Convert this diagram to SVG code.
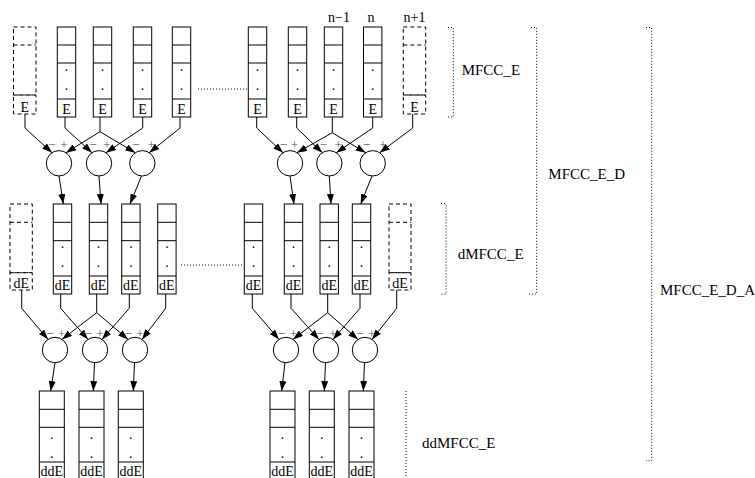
<svg xmlns="http://www.w3.org/2000/svg" width="755" height="478" viewBox="0 0 755 478">
<style>
.c{fill:#fff;stroke:#000;stroke-width:1}
.d{fill:none;stroke:#000;stroke-width:1;stroke-dasharray:4,3}
.dv{stroke:#000;stroke-width:1}
.t{font-family:"Liberation Serif",serif;font-size:14px;fill:#000;text-anchor:middle}
.pm{font-family:"Liberation Serif",serif;font-size:13px;fill:#555;text-anchor:middle}
.lb{font-family:"Liberation Serif",serif;font-size:15px;fill:#000}
.dot{fill:none;stroke:#000;stroke-width:1;stroke-dasharray:1,2}
.cn{fill:none;stroke:#000;stroke-width:1}
.ar{fill:none;stroke:#000;stroke-width:1;marker-end:url(#ah)}
.op{fill:#fff;stroke:#000;stroke-width:1}
</style>
<defs>
<marker id="ah" markerWidth="10" markerHeight="7" refX="10" refY="3.5" orient="auto" markerUnits="userSpaceOnUse"><path d="M0,0 L10,3.5 L0,7 z" fill="#000"/></marker>
</defs>

<!-- top row -->
<g id="top-dashL"><rect class="d" x="13.5" y="27" width="22.5" height="68"/><line class="d" x1="13.5" y1="45" x2="36" y2="45"/><rect class="d" x="13.5" y="95" width="22.5" height="19"/><text class="t" x="24.7" y="111.5">E</text></g>
<g id="top-1"><rect class="c" x="57.3" y="27" width="18.4" height="90"/><path class="dv" d="M57.3,45H75.7M57.3,63H75.7M57.3,99H75.7"/><text class="t" x="66.5" y="71">.</text><text class="t" x="66.5" y="90">.</text><text class="t" x="66.5" y="113.5">E</text></g>
<g id="top-2"><rect class="c" x="93.3" y="27" width="18.4" height="90"/><path class="dv" d="M93.3,45H111.7M93.3,63H111.7M93.3,99H111.7"/><text class="t" x="102.5" y="71">.</text><text class="t" x="102.5" y="90">.</text><text class="t" x="102.5" y="113.5">E</text></g>
<g id="top-3"><rect class="c" x="133.3" y="27" width="18.4" height="90"/><path class="dv" d="M133.3,45H151.7M133.3,63H151.7M133.3,99H151.7"/><text class="t" x="142.5" y="71">.</text><text class="t" x="142.5" y="90">.</text><text class="t" x="142.5" y="113.5">E</text></g>
<g id="top-4"><rect class="c" x="172.3" y="27" width="18.4" height="90"/><path class="dv" d="M172.3,45H190.7M172.3,63H190.7M172.3,99H190.7"/><text class="t" x="181.5" y="71">.</text><text class="t" x="181.5" y="90">.</text><text class="t" x="181.5" y="113.5">E</text></g>
<g id="top-5"><rect class="c" x="248.3" y="27" width="18.4" height="90"/><path class="dv" d="M248.3,45H266.7M248.3,63H266.7M248.3,99H266.7"/><text class="t" x="257.5" y="71">.</text><text class="t" x="257.5" y="90">.</text><text class="t" x="257.5" y="113.5">E</text></g>
<g id="top-6"><rect class="c" x="288.3" y="27" width="18.4" height="90"/><path class="dv" d="M288.3,45H306.7M288.3,63H306.7M288.3,99H306.7"/><text class="t" x="297.5" y="71">.</text><text class="t" x="297.5" y="90">.</text><text class="t" x="297.5" y="113.5">E</text></g>
<g id="top-7"><rect class="c" x="324.3" y="27" width="18.4" height="90"/><path class="dv" d="M324.3,45H342.7M324.3,63H342.7M324.3,99H342.7"/><text class="t" x="333.5" y="71">.</text><text class="t" x="333.5" y="90">.</text><text class="t" x="333.5" y="113.5">E</text><text class="t" x="339" y="22">n−1</text></g>
<g id="top-8"><rect class="c" x="363.5" y="27" width="18.4" height="90"/><path class="dv" d="M363.5,45H381.9M363.5,63H381.9M363.5,99H381.9"/><text class="t" x="372.7" y="71">.</text><text class="t" x="372.7" y="90">.</text><text class="t" x="372.7" y="113.5">E</text><text class="t" x="371" y="22">n</text></g>
<g id="top-dashR"><rect class="d" x="403.3" y="27" width="22.4" height="68"/><line class="d" x1="403.3" y1="45" x2="425.7" y2="45"/><rect class="d" x="403.3" y="95" width="22.4" height="19"/><text class="t" x="414.5" y="111.5">E</text><text class="t" x="414.5" y="22">n+1</text></g>

<!-- middle row -->
<g id="mid-dashL"><rect class="d" x="10" y="204" width="22.3" height="68.7"/><line class="d" x1="10" y1="222.3" x2="32.3" y2="222.3"/><rect class="d" x="10" y="272.7" width="22.3" height="17.3"/><text class="t" x="21.2" y="288">dE</text></g>
<g id="mid-1"><rect class="c" x="53.3" y="204" width="18.4" height="90"/><path class="dv" d="M53.3,222.3H71.7M53.3,240.7H71.7M53.3,276H71.7"/><text class="t" x="62.5" y="248">.</text><text class="t" x="62.5" y="267">.</text><text class="t" x="62.5" y="290">dE</text></g>
<g id="mid-2"><rect class="c" x="89.3" y="204" width="18.4" height="90"/><path class="dv" d="M89.3,222.3H107.7M89.3,240.7H107.7M89.3,276H107.7"/><text class="t" x="98.5" y="248">.</text><text class="t" x="98.5" y="267">.</text><text class="t" x="98.5" y="290">dE</text></g>
<g id="mid-3"><rect class="c" x="121.7" y="204" width="18.4" height="90"/><path class="dv" d="M121.7,222.3H140.1M121.7,240.7H140.1M121.7,276H140.1"/><text class="t" x="130.9" y="248">.</text><text class="t" x="130.9" y="267">.</text><text class="t" x="130.9" y="290">dE</text></g>
<g id="mid-4"><rect class="c" x="157.7" y="204" width="18.4" height="90"/><path class="dv" d="M157.7,222.3H176.1M157.7,240.7H176.1M157.7,276H176.1"/><text class="t" x="166.9" y="248">.</text><text class="t" x="166.9" y="267">.</text><text class="t" x="166.9" y="290">dE</text></g>
<g id="mid-5"><rect class="c" x="244.3" y="204" width="18.4" height="90"/><path class="dv" d="M244.3,222.3H262.7M244.3,240.7H262.7M244.3,276H262.7"/><text class="t" x="253.5" y="248">.</text><text class="t" x="253.5" y="267">.</text><text class="t" x="253.5" y="290">dE</text></g>
<g id="mid-6"><rect class="c" x="284.3" y="204" width="18.4" height="90"/><path class="dv" d="M284.3,222.3H302.7M284.3,240.7H302.7M284.3,276H302.7"/><text class="t" x="293.5" y="248">.</text><text class="t" x="293.5" y="267">.</text><text class="t" x="293.5" y="290">dE</text></g>
<g id="mid-7"><rect class="c" x="320" y="204" width="18.4" height="90"/><path class="dv" d="M320,222.3H338.4M320,240.7H338.4M320,276H338.4"/><text class="t" x="329.2" y="248">.</text><text class="t" x="329.2" y="267">.</text><text class="t" x="329.2" y="290">dE</text></g>
<g id="mid-8"><rect class="c" x="352.3" y="204" width="18.4" height="90"/><path class="dv" d="M352.3,222.3H370.7M352.3,240.7H370.7M352.3,276H370.7"/><text class="t" x="361.5" y="248">.</text><text class="t" x="361.5" y="267">.</text><text class="t" x="361.5" y="290">dE</text></g>
<g id="mid-dashR"><rect class="d" x="389" y="204" width="22" height="68.7"/><line class="d" x1="389" y1="222.3" x2="411" y2="222.3"/><rect class="d" x="389" y="272.7" width="22" height="17.3"/><text class="t" x="400" y="288">dE</text></g>

<!-- bottom row -->
<g id="bot-1"><rect class="c" x="39.3" y="391" width="25" height="90"/><path class="dv" d="M39.3,409.3H64.3M39.3,427.3H64.3M39.3,462H64.3"/><text class="t" x="51.8" y="439">.</text><text class="t" x="51.8" y="457.5">.</text><text class="t" x="51.8" y="476">ddE</text></g>
<g id="bot-2"><rect class="c" x="79" y="391" width="25" height="90"/><path class="dv" d="M79,409.3H104M79,427.3H104M79,462H104"/><text class="t" x="91.5" y="439">.</text><text class="t" x="91.5" y="457.5">.</text><text class="t" x="91.5" y="476">ddE</text></g>
<g id="bot-3"><rect class="c" x="118.3" y="391" width="25" height="90"/><path class="dv" d="M118.3,409.3H143.3M118.3,427.3H143.3M118.3,462H143.3"/><text class="t" x="130.8" y="439">.</text><text class="t" x="130.8" y="457.5">.</text><text class="t" x="130.8" y="476">ddE</text></g>
<g id="bot-4"><rect class="c" x="270" y="391" width="25" height="90"/><path class="dv" d="M270,409.3H295M270,427.3H295M270,462H295"/><text class="t" x="282.5" y="439">.</text><text class="t" x="282.5" y="457.5">.</text><text class="t" x="282.5" y="476">ddE</text></g>
<g id="bot-5"><rect class="c" x="309.3" y="391" width="25" height="90"/><path class="dv" d="M309.3,409.3H334.3M309.3,427.3H334.3M309.3,462H334.3"/><text class="t" x="321.8" y="439">.</text><text class="t" x="321.8" y="457.5">.</text><text class="t" x="321.8" y="476">ddE</text></g>
<g id="bot-6"><rect class="c" x="349" y="391" width="25" height="90"/><path class="dv" d="M349,409.3H374M349,427.3H374M349,462H374"/><text class="t" x="361.5" y="439">.</text><text class="t" x="361.5" y="457.5">.</text><text class="t" x="361.5" y="476">ddE</text></g>

<!-- difference operators -->
<g id="op-1"><circle class="op" cx="59" cy="163.3" r="12.7"/><text class="pm" x="51.7" y="149">−</text><text class="pm" x="64" y="149">+</text></g>
<g id="op-2"><circle class="op" cx="99" cy="163.3" r="12.7"/><text class="pm" x="93" y="149">−</text><text class="pm" x="107" y="149">+</text></g>
<g id="op-3"><circle class="op" cx="142.3" cy="163.3" r="12.7"/><text class="pm" x="136" y="149">−</text><text class="pm" x="151.5" y="149">+</text></g>
<g id="op-4"><circle class="op" cx="290" cy="163.3" r="12.7"/><text class="pm" x="283.3" y="149">−</text><text class="pm" x="294.5" y="149">+</text></g>
<g id="op-5"><circle class="op" cx="329.3" cy="163.3" r="12.7"/><text class="pm" x="323.3" y="149">−</text><text class="pm" x="338.3" y="149">+</text></g>
<g id="op-6"><circle class="op" cx="372.7" cy="163.3" r="12.7"/><text class="pm" x="366.7" y="149">−</text><text class="pm" x="383" y="149">+</text></g>
<g id="op-7"><circle class="op" cx="55" cy="350" r="12.7"/><text class="pm" x="50" y="337.5">−</text><text class="pm" x="61.7" y="337.5">+</text></g>
<g id="op-8"><circle class="op" cx="95" cy="350" r="12.7"/><text class="pm" x="88.3" y="337.5">−</text><text class="pm" x="100" y="337.5">+</text></g>
<g id="op-9"><circle class="op" cx="135" cy="350" r="12.7"/><text class="pm" x="128.3" y="337.5">−</text><text class="pm" x="140" y="337.5">+</text></g>
<g id="op-10"><circle class="op" cx="286" cy="350" r="12.7"/><text class="pm" x="281.7" y="337.5">−</text><text class="pm" x="293.3" y="337.5">+</text></g>
<g id="op-11"><circle class="op" cx="326" cy="350" r="12.7"/><text class="pm" x="320" y="337.5">−</text><text class="pm" x="333" y="337.5">+</text></g>
<g id="op-12"><circle class="op" cx="365" cy="350" r="12.7"/><text class="pm" x="360" y="337.5">−</text><text class="pm" x="371.7" y="337.5">+</text></g>

<!-- connectors -->
<g id="connectors">
<path class="ar" d="M25,114V128L52,152.7"/>
<path class="ar" d="M65,117V128L92,152.7"/>
<path class="cn" d="M100,117V131.7"/>
<path class="ar" d="M100,131.7L66,152.7"/>
<path class="ar" d="M100,131.7L135.3,152.7"/>
<path class="ar" d="M142.7,117V128L106,152.7"/>
<path class="ar" d="M180,117V128L149.3,152.7"/>
<path class="ar" d="M256.7,117V128L283,152.7"/>
<path class="ar" d="M296.7,117V128L322.3,152.7"/>
<path class="cn" d="M332.3,117V132.7"/>
<path class="ar" d="M332.3,132.7L297,152.7"/>
<path class="ar" d="M332.3,132.7L365.7,152.7"/>
<path class="ar" d="M372.7,117V128L336.3,152.7"/>
<path class="ar" d="M412.7,114V128L379.7,152.7"/>

<path class="ar" d="M59,176L63.3,204"/>
<path class="ar" d="M99,176L101,204"/>
<path class="ar" d="M141.5,176L130,204"/>
<path class="ar" d="M290,176L294,204"/>
<path class="ar" d="M329.3,176L331,204"/>
<path class="ar" d="M372,176L360.7,204"/>

<path class="ar" d="M21.7,290V308.3L48,339.4"/>
<path class="ar" d="M60.7,294V308.3L88,339.4"/>
<path class="cn" d="M96.7,294V312.7"/>
<path class="ar" d="M96.7,312.7L62,339.4"/>
<path class="ar" d="M96.7,312.7L128,339.4"/>
<path class="ar" d="M129.3,294V308.3L102,339.4"/>
<path class="ar" d="M165.7,294V308.3L142,339.4"/>
<path class="ar" d="M252.3,294V308.3L279,339.4"/>
<path class="ar" d="M291,294V308.3L319,339.4"/>
<path class="cn" d="M327.7,294V312.7"/>
<path class="ar" d="M327.7,312.7L293,339.4"/>
<path class="ar" d="M327.7,312.7L358,339.4"/>
<path class="ar" d="M360,294V308.3L333,339.4"/>
<path class="ar" d="M396.7,290V308.3L372,339.4"/>

<path class="ar" d="M55,362.7L50.7,391"/>
<path class="ar" d="M94.5,362.7L93.3,391"/>
<path class="ar" d="M134.5,362.7L133.3,391"/>
<path class="ar" d="M285,362.7L281.7,391"/>
<path class="ar" d="M325.5,362.7L324.3,391"/>
<path class="ar" d="M364.5,362.7L363.3,391"/>
</g>

<!-- ellipsis lines -->
<g id="ellipses">
<line class="dot" x1="198" y1="89" x2="247" y2="89"/>
<line class="dot" x1="181" y1="265" x2="243" y2="265"/>
</g>

<!-- brackets -->
<g id="brackets">
<path class="dot" d="M448,27.5H453.3V117H448"/>
<path class="dot" d="M531,27.5H536.7V294H528"/>
<path class="dot" d="M441,203.5H446V294H441"/>
<path class="dot" d="M646,27.5H651.7V460.7H646"/>
<path class="dot" d="M406,391V478"/>
</g>

<g id="labels">
<text class="lb" x="461.7" y="75">MFCC_E</text>
<text class="lb" x="548.3" y="179">MFCC_E_D</text>
<text class="lb" x="457.7" y="259">dMFCC_E</text>
<text class="lb" x="660" y="295">MFCC_E_D_A</text>
<text class="lb" x="422" y="448">ddMFCC_E</text>
</g>
</svg>
